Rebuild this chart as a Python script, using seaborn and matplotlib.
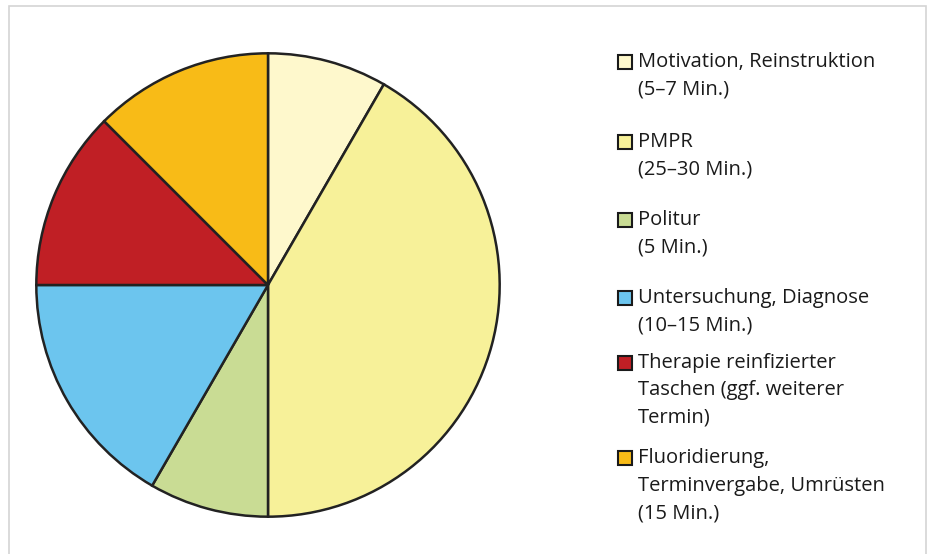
import matplotlib
matplotlib.use("Agg")
import matplotlib.pyplot as plt
from matplotlib.patches import Rectangle
import seaborn as sns

categories = [
    "Motivation, Reinstruktion\n(5–7 Min.)",
    "PMPR\n(25–30 Min.)",
    "Politur\n(5 Min.)",
    "Untersuchung, Diagnose\n(10–15 Min.)",
    "Therapie reinfizierter\nTaschen (ggf. weiterer\nTermin)",
    "Fluoridierung,\nTerminvergabe, Umrüsten\n(15 Min.)",
]
values = [5, 25, 5, 10, 7.5, 7.5]
colors = ["#FEF8CC", "#F7F199", "#C9DC94", "#6CC5EE", "#C01F25", "#F8BB17"]

sns.set_theme(style="white")
plt.rcParams['font.family'] = ['Open Sans', 'DejaVu Sans']

fig = plt.figure(figsize=(9.3, 5.54), dpi=100)
W, H = 930, 554

# frame border
fig.patches.append(Rectangle((9 / W, -0.05), (926 - 9) / W, (554 - 6) / H + 0.05,
                             transform=fig.transFigure, fill=False,
                             edgecolor="#D4D4D4", linewidth=1.2))

ax = fig.add_axes([34 / W, 35 / H, 468 / W, 468 / H])
ax.pie(values, colors=colors, startangle=90, counterclock=False,
       wedgeprops=dict(edgecolor="#222222", linewidth=1.8))
ax.set_xlim(-1.01, 1.01)
ax.set_ylim(-1.01, 1.01)
ax.set_aspect("equal")
ax.axis("off")

# legend (manual layout)
first_line_y = [62, 142, 220, 298, 363, 458]
line_h = 27.5
for lab, col, y in zip(categories, colors, first_line_y):
    fig.patches.append(Rectangle((618 / W, (H - y - 7) / H), 14 / W, 14 / H,
                                 transform=fig.transFigure, facecolor=col,
                                 edgecolor="#1a1a1a", linewidth=1.5))
    for i, line in enumerate(lab.split("\n")):
        fig.text(638 / W, (H - y - i * line_h) / H, line, fontsize=14.5,
                 color="#1a1a1a", va="center", ha="left")

fig.savefig("out.png", dpi=100)
